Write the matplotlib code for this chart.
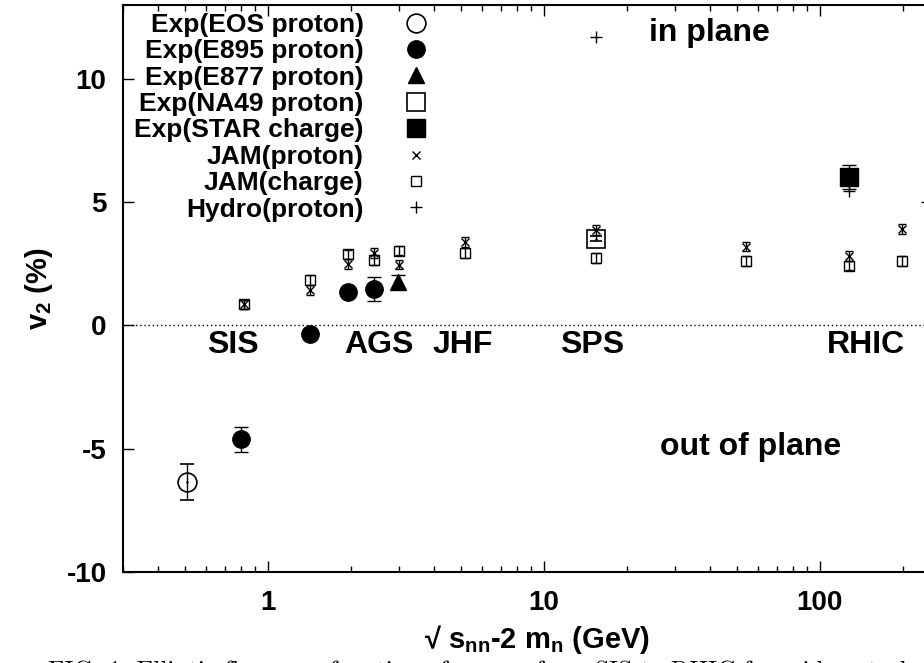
import numpy as np
import matplotlib.pyplot as plt

plt.rcParams['font.family'] = ['Liberation Sans', 'DejaVu Sans']
plt.rcParams['font.weight'] = 'bold'
plt.rcParams['axes.labelweight'] = 'bold'
plt.rcParams['axes.unicode_minus'] = False
plt.rcParams['mathtext.fontset'] = 'custom'
plt.rcParams['mathtext.rm'] = 'Liberation Sans:bold'
plt.rcParams['mathtext.bf'] = 'Liberation Sans:bold'
plt.rcParams['mathtext.it'] = 'Liberation Sans:bold'
plt.rcParams['mathtext.default'] = 'bf'

# --- data (sqrt(s_nn) - 2 m_n in GeV, v2 in %) ---
eos_x = [0.51]
eos_y = [-6.35]
eos_err = [0.75]

e895_x = [0.80, 1.43, 1.96, 2.43]
e895_y = [-4.62, -0.34, 1.35, 1.49]
e895_err = [0.50, 0.10, 0.10, 0.49]

e877_x = [2.97]
e877_y = [1.78]
e877_err = [0.27]

na49_x = [15.5]
na49_y = [3.52]
na49_err = [0.10]

star_x = [128.0]
star_y = [6.02]
star_err = [0.50]

jam_x = [0.82, 1.43, 1.96, 2.43, 3.0, 5.2, 15.5, 54.0, 128.0, 198.0]
jam_p = [0.85, 1.45, 2.50, 2.93, 2.47, 3.38, 3.88, 3.20, 2.80, 3.92]
jam_ch = [0.85, 1.83, 2.88, 2.64, 3.04, 2.95, 2.75, 2.62, 2.43, 2.60]
jam_err = 0.2

hydro_x = [15.5, 128.0, 245.0]
hydro_y = [11.7, 5.47, 5.0]

labels = ['Exp(EOS proton)', 'Exp(E895 proton)', 'Exp(E877 proton)',
          'Exp(NA49 proton)', 'Exp(STAR charge)', 'JAM(proton)',
          'JAM(charge)', 'Hydro(proton)']

fig = plt.figure(figsize=(9.24, 6.63), dpi=100)
ax = fig.add_axes([0.1334, 0.1373, 0.8963, 0.8552])

ebkw = dict(ecolor='k', elinewidth=1, capthick=1, linestyle='none')
h_eos = ax.errorbar(eos_x, eos_y, yerr=eos_err, fmt='o', ms=13.5, mfc='none',
                    mec='k', mew=1.2, capsize=5, **ebkw)
ax.plot(eos_x, eos_y, '.', color='k', ms=1.5)
h_e895 = ax.errorbar(e895_x, e895_y, yerr=e895_err, fmt='o', ms=12.5,
                     color='k', capsize=5, **ebkw)
h_e877 = ax.errorbar(e877_x, e877_y, yerr=e877_err, fmt='^', ms=12,
                     color='k', capsize=5, **ebkw)
h_na49 = ax.errorbar(na49_x, na49_y, yerr=na49_err, fmt='s', ms=13,
                     mfc='none', mec='k', mew=1.2, capsize=4, **ebkw)
ax.plot(na49_x, na49_y, '.', color='k', ms=1.5)
h_star = ax.errorbar(star_x, star_y, yerr=star_err, fmt='s', ms=13,
                     color='k', capsize=5, **ebkw)
h_jp = ax.errorbar(jam_x, jam_p, yerr=jam_err, fmt='x', ms=6, color='k',
                   mew=1, capsize=3, **ebkw)
h_jc = ax.errorbar(jam_x, jam_ch, yerr=jam_err, fmt='s', ms=6.5, mfc='none',
                   mec='k', mew=1, capsize=3, **ebkw)
h_hy = ax.plot(hydro_x, hydro_y, '+', color='k', ms=8, mew=1)[0]

ax.axhline(0, color='k', lw=1, ls=(0, (1, 2)))

ax.set_xscale('log')
ax.set_xlim(0.3, 300)
ax.set_ylim(-10, 13)
ax.set_yticks([-10, -5, 0, 5, 10])
ax.set_xticks([1, 10, 100])
ax.set_xticklabels(['1', '10', '100'])
ax.tick_params(which='both', direction='in', top=True, right=True,
               labelsize=20, width=1)
ax.tick_params(which='major', length=8)
ax.tick_params(axis='x', which='major', pad=13)
ax.tick_params(axis='y', which='major', pad=12)
ax.tick_params(which='minor', length=4)
ax.tick_params(axis='y', which='minor', left=False, right=False)
for s in ax.spines.values():
    s.set_linewidth(1.5)

ax.set_ylabel(r'v$_2$ (%)', fontsize=21, fontweight='bold', labelpad=8)
ax.set_xlabel(r'√ s$_{nn}$-2 m$_n$ (GeV)', fontsize=21, fontweight='bold',
              labelpad=5)

txt = dict(fontsize=23, fontweight='bold', ha='center', va='center')
ax.text(40, 11.85, 'in plane', **txt)
ax.text(56, -4.93, 'out of plane', **txt)
ax.text(0.75, -0.79, 'SIS', **txt)
ax.text(2.53, -0.79, 'AGS', **txt)
ax.text(5.07, -0.79, 'JHF', **txt)
ax.text(14.96, -0.79, 'SPS', **txt)
ax.text(147, -0.79, 'RHIC', **txt)

handles = [h_eos[0], h_e895[0], h_e877[0], h_na49[0], h_star[0],
           h_jp[0], h_jc[0], h_hy]
ax.legend(handles, labels, loc='upper right', bbox_to_anchor=(0.370, 0.986),
          frameon=False, markerfirst=False, fontsize=19, handlelength=1.0,
          handletextpad=1.5, labelspacing=0.09, borderpad=0,
          borderaxespad=0, numpoints=1)

# caption of the paper figure, only its top shows at the bottom edge
fig.text(0.052, -0.023, 'FIG. 1: Elliptic flow as a function of energy from '
         'SIS to RHIC for mid-central collisions', family='cmr10',
         fontweight='normal', fontsize=18, ha='left', va='baseline')

fig.savefig('out.png', dpi=100)
